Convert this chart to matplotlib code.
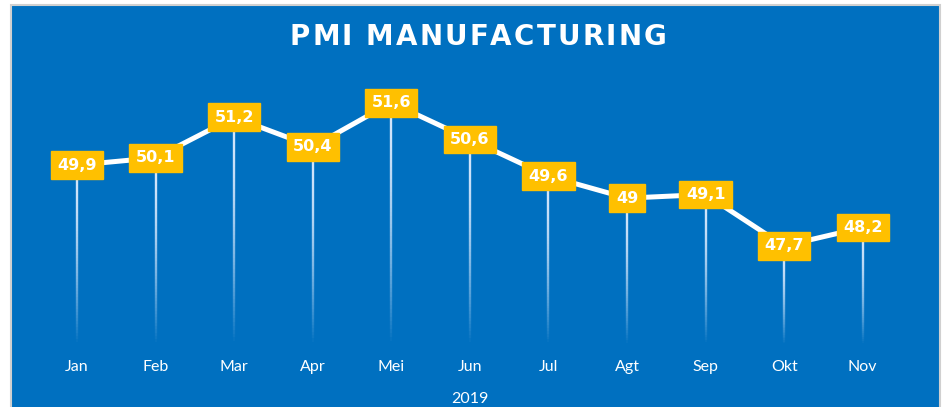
import matplotlib
matplotlib.use("Agg")
import matplotlib.pyplot as plt
import numpy as np
from matplotlib.patches import Rectangle
from matplotlib.collections import LineCollection

months = ["Jan", "Feb", "Mar", "Apr", "Mei", "Jun", "Jul", "Agt", "Sep", "Okt", "Nov"]
pmi = [49.9, 50.1, 51.2, 50.4, 51.6, 50.6, 49.6, 49.0, 49.1, 47.7, 48.2]
labels = ["49,9", "50,1", "51,2", "50,4", "51,6", "50,6", "49,6", "49", "49,1", "47,7", "48,2"]
title = "PMI MANUFACTURING"
xlabel = "2019"

W, H = 947, 407
fig = plt.figure(figsize=(W / 100, H / 100), dpi=100)
fig.patch.set_facecolor("white")

BLUE = "#0070C0"
GOLD = "#FFC000"

# panel background in its own axes
bg = fig.add_axes([0, 0, 1, 1], zorder=-1)
bg.set_xlim(0, W)
bg.set_ylim(H, 0)
bg.axis("off")
bg.add_patch(Rectangle((11, 5), 940 - 11, H, facecolor=BLUE, edgecolor="#D0D0D0",
                       linewidth=1.5))

# axes placement (pixels)
x_left, x_right = 37.7, 902.0
y_bot_px, y_top_px = 345.0, 88.0
ymin, ymax = 45.0, 52.0
ax = fig.add_axes([x_left / W, (H - y_bot_px) / H, (x_right - x_left) / W, (y_bot_px - y_top_px) / H])
ax.set_facecolor("none")
ax.set_xlim(-0.5, len(months) - 0.5)
ax.set_ylim(ymin, ymax)
for s in ax.spines.values():
    s.set_visible(False)

x = np.arange(len(months))

# gradient drop lines
n = 60
for xi, yi in zip(x, pmi):
    ys = np.linspace(yi, ymin, n + 1)
    segs = [[(xi, ys[k]), (xi, ys[k + 1])] for k in range(n)]
    frac = np.linspace(0, 1, n)
    alphas = np.clip(0.95 * (1 - frac ** 1.8), 0, 1)
    colors = [(0.88, 0.93, 1.0, a) for a in alphas]
    lc = LineCollection(segs, colors=colors, linewidths=1.7, zorder=1)
    ax.add_collection(lc)

ax.plot(x, pmi, color="white", lw=3.6, zorder=2, solid_capstyle="round")

for xi, yi, lab in zip(x, pmi, labels):
    ax.text(xi, yi, lab, ha="center", va="center", color="white", fontsize=11.5,
            fontweight="bold", family="DejaVu Sans", zorder=4,
            bbox=dict(boxstyle="square,pad=0.4", facecolor=GOLD, edgecolor=GOLD))

ax.set_xticks(x)
ax.set_xticklabels(months, color="white", fontsize=11.5, family="Lato")
ax.tick_params(axis="x", length=0, pad=11)
ax.set_yticks([])
ax.set_xlabel(xlabel, color="white", fontsize=11.5, family="Lato", labelpad=13)

# letter-spaced title
renderer = fig.canvas.get_renderer()
tkw = dict(color="white", fontsize=20, fontweight="bold", family="DejaVu Sans",
           va="center", ha="left")
spacing = 2.2  # extra px between letters
widths = []
for ch in title:
    if ch == " ":
        widths.append(9.0)
        continue
    t = fig.text(0, 0, ch, **tkw)
    widths.append(t.get_window_extent(renderer).width)
    t.remove()
total = sum(widths) + spacing * (len(title) - 1)
cx = 478.0
xpos = cx - total / 2
for ch, w in zip(title, widths):
    if ch != " ":
        fig.text(xpos / W, 1 - 37 / H, ch, **tkw)
    xpos += w + spacing

fig.savefig("out.png", dpi=100, facecolor=fig.get_facecolor())
